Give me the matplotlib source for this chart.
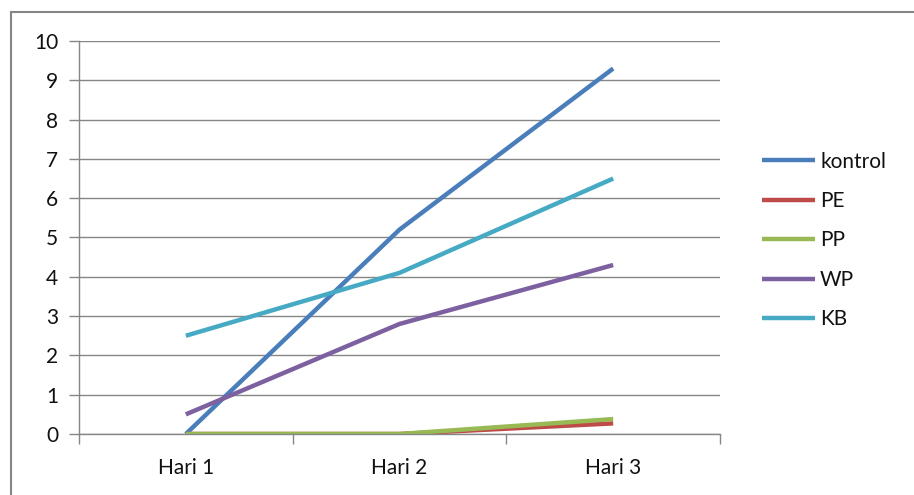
import matplotlib.pyplot as plt
from matplotlib.patches import Rectangle
from matplotlib.ticker import FixedLocator, NullFormatter, FixedFormatter

days = ['Hari 1', 'Hari 2', 'Hari 3']
kontrol = [0, 5.2, 9.3]
pe = [0, 0, 0.27]
pp = [0, 0, 0.38]
wp = [0.5, 2.8, 4.3]
kb = [2.5, 4.1, 6.5]

series = [
    ('kontrol', kontrol, '#4a7ebb'),
    ('PE', pe, '#be4b48'),
    ('PP', pp, '#98b954'),
    ('WP', wp, '#7d60a0'),
    ('KB', kb, '#46aac5'),
]

plt.rcParams['font.family'] = ['Lato', 'DejaVu Sans']
grey = '#868686'
ink = '#111111'

fig = plt.figure(figsize=(9.14, 4.95), dpi=100)
fig.patch.set_facecolor('white')

# chart frame (runs off the right and bottom edges)
fig.patches.append(Rectangle((11 / 914, -0.1), 1.0, 1 - 12 / 495 + 0.1,
                             transform=fig.transFigure, fill=False,
                             edgecolor=grey, linewidth=1.5))

ax = fig.add_axes([79 / 914, 1 - 434 / 495, (720 - 79) / 914, (434 - 41) / 495])

x = list(range(len(days)))
for name, vals, col in series:
    ax.plot(x, vals, color=col, lw=3.2, label=name, solid_capstyle='butt')

ax.set_xlim(-0.5, 2.5)
ax.set_ylim(0, 10)
ax.set_yticks(range(0, 11))
ax.yaxis.grid(True, color=grey, lw=1)
ax.set_axisbelow(True)

ax.xaxis.set_major_locator(FixedLocator([-0.5, 0.5, 1.5, 2.5]))
ax.xaxis.set_major_formatter(NullFormatter())
ax.xaxis.set_minor_locator(FixedLocator(x))
ax.xaxis.set_minor_formatter(FixedFormatter(days))
ax.tick_params(axis='x', which='major', length=7, color=grey, width=1)
ax.tick_params(axis='x', which='minor', length=0, pad=17, labelsize=15, labelcolor=ink)
ax.tick_params(axis='y', length=7, color=grey, width=1, pad=8, labelsize=15, labelcolor=ink)

for s in ['top', 'right']:
    ax.spines[s].set_visible(False)
for s in ['left', 'bottom']:
    ax.spines[s].set_color(grey)
    ax.spines[s].set_linewidth(1)

fig.legend(loc='upper left', bbox_to_anchor=(743 / 914, 1 - 133 / 495),
           frameon=False, fontsize=15, handlelength=2.55, handletextpad=0.25,
           labelspacing=0.93, labelcolor=ink)

fig.savefig('out.png', dpi=100, facecolor='white')
